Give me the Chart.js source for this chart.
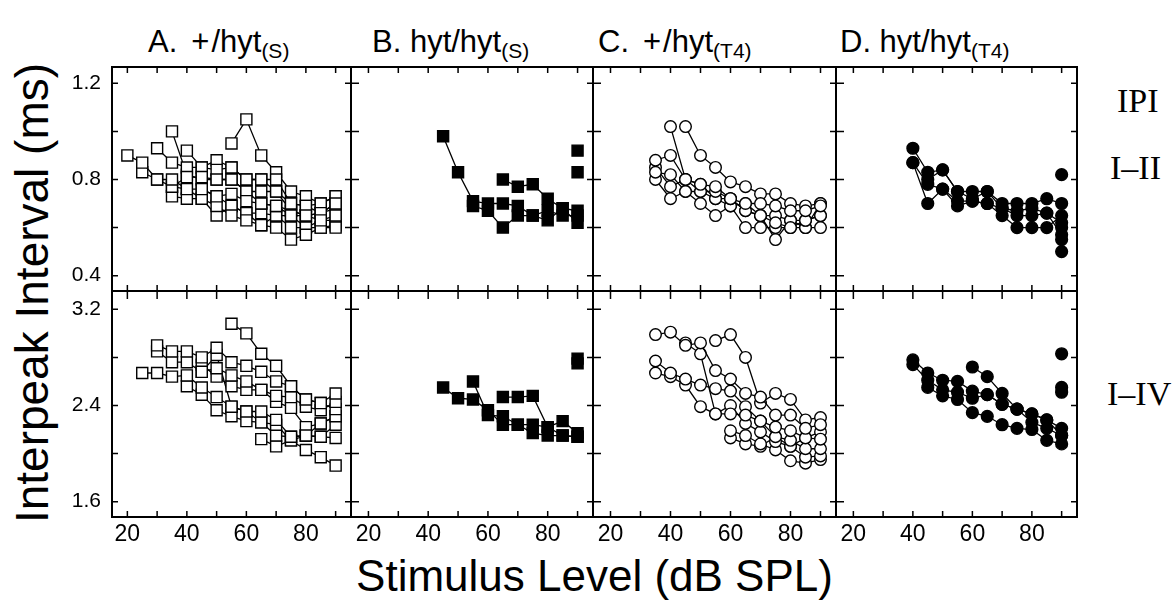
<!DOCTYPE html>
<html>
<head>
<meta charset="utf-8">
<script src="https://cdn.jsdelivr.net/npm/chart.js@4.4.0/dist/chart.umd.min.js"></script>
<style>
  html, body { margin: 0; padding: 0; background: #fff; }
  #fig { position: relative; width: 1173px; height: 603px; overflow: hidden; background: #fff;
         font-family: 'Liberation Sans', Arial, sans-serif; color: #000; }
  #fig canvas { position: absolute; }
  .ttl { position: absolute; top: 26px; font-size: 31px; line-height: 1; white-space: nowrap; }
  .ttl sub { font-size: 21px; vertical-align: -6px; line-height: 0; }
  .ttl .pl { margin: 0 2px 0 14px; }
  .ipi { position: absolute; font-family: 'Liberation Serif', serif; font-size: 34px; line-height: 1; white-space: nowrap; }
  .xt { position: absolute; left: 111px; width: 967px; top: 554px; text-align: center; font-size: 44px; line-height: 1; white-space: nowrap; }
  .yt { position: absolute; left: 32px; top: 293px; transform: translate(-50%, -50%) rotate(-90deg);
        font-size: 46px; line-height: 1; white-space: nowrap; }
</style>
</head>
<body>
<div id="fig">
  <div class="ttl" style="left:148px">A.<span class="pl">+</span>/hyt<sub>(S)</sub></div>
  <div class="ttl" style="left:372px">B. hyt/hyt<sub>(S)</sub></div>
  <div class="ttl" style="left:598px">C.<span class="pl">+</span>/hyt<sub>(T4)</sub></div>
  <div class="ttl" style="left:840px">D. hyt/hyt<sub>(T4)</sub></div>
  <div class="ipi" style="left:1117px; top:84px">IPI</div>
  <div class="ipi" style="left:1110px; top:151px">I–II</div>
  <div class="ipi" style="left:1107px; top:377px">I–IV</div>
  <div class="xt">Stimulus Level (dB SPL)</div>
  <div class="yt">Interpeak Interval (ms)</div>
</div>
<script>
const N = null;
const levels = [20, 25, 30, 35, 40, 45, 50, 55, 60, 65, 70, 75, 80, 85, 90];

// A. +/hyt(S)
const aI_II = [
  [0.90, 0.87, 0.80, 0.80, 0.76, 0.76, 0.73, 0.74, 0.71, 0.70, 0.69, 0.65, 0.65, 0.63, 0.65],
  [N, 0.83, 0.80, 0.77, 0.81, 0.81, 0.80, 0.80, 0.75, 0.75, 0.75, 0.70, 0.69, 0.66, 0.70],
  [N, N, 0.93, 0.87, 0.85, 0.85, 0.84, 0.85, 0.80, 0.80, 0.80, 0.70, 0.69, 0.70, 0.73],
  [N, N, N, 1.00, 0.82, 0.80, 0.80, 0.80, 0.75, 0.70, 0.69, 0.67, 0.65, 0.66, 0.68],
  [N, N, N, N, 0.92, 0.85, 0.88, 0.85, 0.80, 0.80, 0.75, 0.67, 0.65, 0.66, 0.70],
  [N, N, N, N, N, N, N, 0.95, 1.05, 0.90, 0.83, 0.75, 0.73, 0.70, 0.73],
  [N, N, N, 0.73, 0.72, 0.72, 0.69, 0.65, 0.63, 0.61, 0.60, 0.55, 0.57, 0.60, 0.60],
  [N, N, N, N, N, 0.76, 0.73, 0.69, 0.66, 0.66, 0.65, 0.60, 0.60, 0.63, 0.63],
  [N, N, N, 0.77, 0.76, 0.72, 0.65, 0.69, 0.66, 0.61, 0.65, 0.65, 0.60, 0.60, 0.61]
];
const aI_IV = [
  [N, 2.67, 2.67, 2.64, 2.65, 2.55, 2.47, 2.39, 2.35, 2.35, 2.28, 2.14, 2.15, 2.14, 2.13],
  [N, N, 2.90, 2.85, 2.85, 2.80, 2.88, 2.76, 2.73, 2.68, 2.60, 2.56, 2.45, 2.42, 2.50],
  [N, N, 2.85, 2.76, 2.76, 2.68, 2.71, 2.65, 2.60, 2.53, 2.48, 2.47, 2.39, 2.36, 2.43],
  [N, N, N, N, N, N, N, 3.08, 3.00, 2.83, 2.73, 2.56, 2.45, 2.42, 2.37],
  [N, N, N, N, 2.56, 2.49, 2.36, 2.31, 2.27, 2.26, 2.24, 2.11, 2.03, 1.97, 1.90],
  [N, N, N, N, N, 2.74, 2.64, 2.56, 2.53, 2.53, 2.43, 2.38, 2.22, 2.25, 2.31],
  [N, N, N, N, N, 2.68, 2.82, 2.39, 2.35, 2.26, 2.15, 2.14, 2.15, 2.14, 2.24],
  [N, N, N, N, N, N, N, N, N, 2.12, 2.06, 2.11, 2.15, 2.25, 2.31]
];

// B. hyt/hyt(S)
const bI_II = [
  [N, N, N, N, N, 0.98, 0.83, 0.71, 0.70, 0.70, 0.69, 0.65, 0.67, 0.65, 0.65],
  [N, N, N, N, N, N, N, 0.69, 0.67, 0.60, 0.65, 0.65, 0.63, 0.68, 0.62],
  [N, N, N, N, N, N, N, N, N, 0.80, 0.77, 0.78, 0.72, 0.68, 0.67],
  [N, N, N, N, N, N, N, N, N, N, N, N, N, N, 0.92],
  [N, N, N, N, N, N, N, N, N, N, N, N, N, N, 0.83]
];
const bI_IV = [
  [N, N, N, N, N, 2.55, 2.46, 2.45, 2.36, 2.24, 2.24, 2.24, 2.22, 2.27, 2.17],
  [N, N, N, N, N, N, N, 2.60, 2.32, 2.31, 2.24, 2.17, 2.15, 2.15, 2.14],
  [N, N, N, N, N, N, N, N, N, 2.47, 2.47, 2.48, 2.22, 2.15, 2.14],
  [N, N, N, N, N, N, N, N, N, N, N, N, N, N, 2.79],
  [N, N, N, N, N, N, N, N, N, N, N, N, N, N, 2.75]
];

// C. +/hyt(T4)
const cI_II = [
  [N, N, N, 0.88, 0.90, 0.80, 0.78, 0.77, 0.72, 0.70, 0.70, 0.69, 0.67, 0.67, 0.69],
  [N, N, N, N, 1.02, 0.80, 0.75, 0.75, 0.72, 0.67, 0.65, 0.62, 0.60, 0.63, 0.65],
  [N, N, N, N, N, 1.02, 0.90, 0.85, 0.79, 0.77, 0.74, 0.74, 0.70, 0.69, 0.70],
  [N, N, N, 0.83, 0.82, 0.75, 0.75, 0.72, 0.69, 0.70, 0.65, 0.65, 0.63, 0.63, 0.65],
  [N, N, N, 0.80, 0.72, 0.75, 0.70, 0.65, 0.69, 0.60, 0.60, 0.60, 0.60, 0.60, 0.60],
  [N, N, N, 0.85, 0.77, 0.80, 0.78, 0.72, 0.72, 0.67, 0.65, 0.55, 0.63, 0.60, 0.70]
];
const cI_IV = [
  [N, N, N, 2.99, 3.01, 2.90, 2.92, 2.69, 2.62, 2.50, 2.47, 2.32, 2.32, 2.21, 2.24],
  [N, N, N, N, N, 2.92, 2.83, 2.33, 2.33, 2.32, 2.27, 2.22, 2.19, 2.13, 2.12],
  [N, N, N, N, N, N, N, 2.94, 2.99, 2.80, 2.42, 2.50, 2.45, 2.28, 2.30],
  [N, N, N, 2.77, 2.67, 2.62, 2.57, 2.54, 2.52, 2.39, 2.27, 2.14, 2.11, 2.04, 2.04],
  [N, N, N, 2.67, 2.64, 2.57, 2.39, 2.33, 2.40, 2.25, 2.18, 2.10, 2.06, 1.97, 1.98],
  [N, N, N, N, N, N, N, N, 2.19, 2.15, 2.08, 2.03, 1.94, 1.92, 1.95],
  [N, N, N, N, N, N, N, N, 2.13, 2.08, 2.06, 2.14, 2.06, 2.13, 2.18]
];

// D. hyt/hyt(T4)
const dI_II = [
  [N, N, N, N, 0.93, 0.83, 0.84, 0.75, 0.75, 0.75, 0.70, 0.70, 0.70, 0.72, 0.70],
  [N, N, N, N, 0.87, 0.78, 0.76, 0.71, 0.71, 0.70, 0.68, 0.67, 0.68, 0.66, 0.62],
  [N, N, N, N, 0.87, 0.70, 0.76, 0.69, 0.71, 0.70, 0.65, 0.60, 0.60, 0.60, 0.65],
  [N, N, N, N, N, 0.80, 0.84, 0.75, 0.72, 0.75, 0.68, 0.65, 0.65, 0.66, 0.57],
  [N, N, N, N, N, N, N, N, N, N, N, N, N, N, 0.82],
  [N, N, N, N, N, N, N, N, N, N, N, N, N, N, 0.60],
  [N, N, N, N, N, N, N, N, N, N, N, N, N, N, 0.55],
  [N, N, N, N, N, N, N, N, N, N, N, N, N, N, 0.50]
];
const dI_IV = [
  [N, N, N, N, 2.78, 2.67, 2.61, 2.60, 2.52, 2.49, 2.41, 2.37, 2.33, 2.28, 2.21],
  [N, N, N, N, 2.74, 2.61, 2.53, 2.51, 2.46, 2.49, 2.41, 2.37, 2.26, 2.21, 2.15],
  [N, N, N, N, N, 2.55, 2.48, 2.45, 2.34, 2.31, 2.24, 2.21, 2.20, 2.11, 2.08],
  [N, N, N, N, N, N, N, N, 2.72, 2.64, 2.50, 2.37, 2.33, 2.28, 2.15],
  [N, N, N, N, N, N, N, N, N, N, N, N, N, N, 2.83],
  [N, N, N, N, N, N, N, N, N, N, N, N, N, N, 2.55],
  [N, N, N, N, N, N, N, N, N, N, N, N, N, N, 2.51]
];

const panelData = [[aI_II, bI_II, cI_II, dI_II], [aI_IV, bI_IV, cI_IV, dI_IV]];

// layout of the 2x4 grid
const colX = [111, 352, 594, 837];
const colW = [241, 242, 243, 241];
const rowY = [66, 292];
const rowH = 226;
const yRange = [[0.332, 1.272, 0.2, 4], [1.464, 3.344, 0.4, 8]];
const marker = [
  { style: 'rect', fill: '#fff', r: 7.8 },
  { style: 'rect', fill: '#000', r: 7.8 },
  { style: 'circle', fill: '#fff', r: 5.8 },
  { style: 'circle', fill: '#000', r: 5.9 }
];

Chart.defaults.font.family = "'Liberation Sans', Arial, sans-serif";
Chart.defaults.color = '#000';

const framePlugin = {
  id: 'frame',
  afterDraw(chart, args, o) {
    const { ctx, chartArea: a, scales: { x, y } } = chart;
    ctx.save();
    ctx.strokeStyle = '#000';
    ctx.lineWidth = 2;
    ctx.beginPath();
    ctx.moveTo(a.right - 1, a.top); ctx.lineTo(a.right - 1, a.bottom);
    ctx.moveTo(a.left, a.bottom - 1); ctx.lineTo(a.right, a.bottom - 1);
    if (o.left) { ctx.moveTo(a.left + 1, a.top); ctx.lineTo(a.left + 1, a.bottom); }
    if (o.top) { ctx.moveTo(a.left, a.top + 1); ctx.lineTo(a.right, a.top + 1); }
    ctx.stroke();
    // inward tick marks on all four sides
    ctx.lineWidth = 1.5;
    ctx.beginPath();
    x.ticks.forEach(t => {
      const px = x.getPixelForValue(t.value);
      ctx.moveTo(px, a.top); ctx.lineTo(px, a.top + 7);
      ctx.moveTo(px, a.bottom); ctx.lineTo(px, a.bottom - 7);
    });
    y.ticks.forEach(t => {
      const py = y.getPixelForValue(t.value);
      ctx.moveTo(a.left, py); ctx.lineTo(a.left + 7, py);
      ctx.moveTo(a.right, py); ctx.lineTo(a.right - 7, py);
    });
    ctx.stroke();
    ctx.restore();
  }
};

const fig = document.getElementById('fig');

for (let row = 0; row < 2; row++) {
  for (let col = 0; col < 4; col++) {
    const first = col === 0, last = row === 1;
    const padL = first ? 60 : 0, padB = last ? 42 : 0;
    const m = marker[col];
    const [ymin, ymax, ystep, ylab] = yRange[row];

    const cv = document.createElement('canvas');
    cv.width = colW[col] + padL;
    cv.height = rowH + padB;
    cv.style.left = (colX[col] - padL) + 'px';
    cv.style.top = rowY[row] + 'px';
    fig.appendChild(cv);

    new Chart(cv, {
      type: 'line',
      data: {
        datasets: panelData[row][col].map(vals => ({
          data: levels.map((x, i) => ({ x, y: vals[i] })).filter(p => p.y !== null),
          showLine: true,
          borderColor: '#000',
          borderWidth: 1.3,
          tension: 0,
          fill: false,
          pointStyle: m.style,
          pointRadius: m.r,
          pointHoverRadius: m.r,
          pointBackgroundColor: m.fill,
          pointBorderColor: '#000',
          pointBorderWidth: 1.4
        }))
      },
      options: {
        responsive: false,
        maintainAspectRatio: false,
        animation: false,
        layout: { padding: 0, autoPadding: false },
        plugins: {
          legend: { display: false },
          tooltip: { enabled: false },
          frame: { left: first, top: row === 0 }
        },
        scales: {
          x: {
            type: 'linear',
            min: 14.5,
            max: 95.5,
            display: last,
            grid: { display: false, drawTicks: false },
            border: { display: false },
            ticks: {
              stepSize: 10,
              includeBounds: false,
              autoSkip: false,
              maxRotation: 0,
              padding: 3,
              font: { size: 23 },
              callback: v => (v % 20 === 0 ? v : '')
            },
            afterFit: s => { s.height = padB; s.paddingLeft = 0; s.paddingRight = 0; }
          },
          y: {
            type: 'linear',
            min: ymin,
            max: ymax,
            display: first,
            grid: { display: false, drawTicks: false },
            border: { display: false },
            ticks: {
              stepSize: ystep,
              includeBounds: false,
              autoSkip: false,
              padding: 10,
              font: { size: 21 },
              callback: v => (Math.round(v * 10) % ylab === 0 ? v.toFixed(1) : '')
            },
            afterFit: s => { s.width = padL; s.paddingTop = 0; s.paddingBottom = 0; }
          }
        }
      },
      plugins: [framePlugin]
    });
  }
}
</script>
</body>
</html>
